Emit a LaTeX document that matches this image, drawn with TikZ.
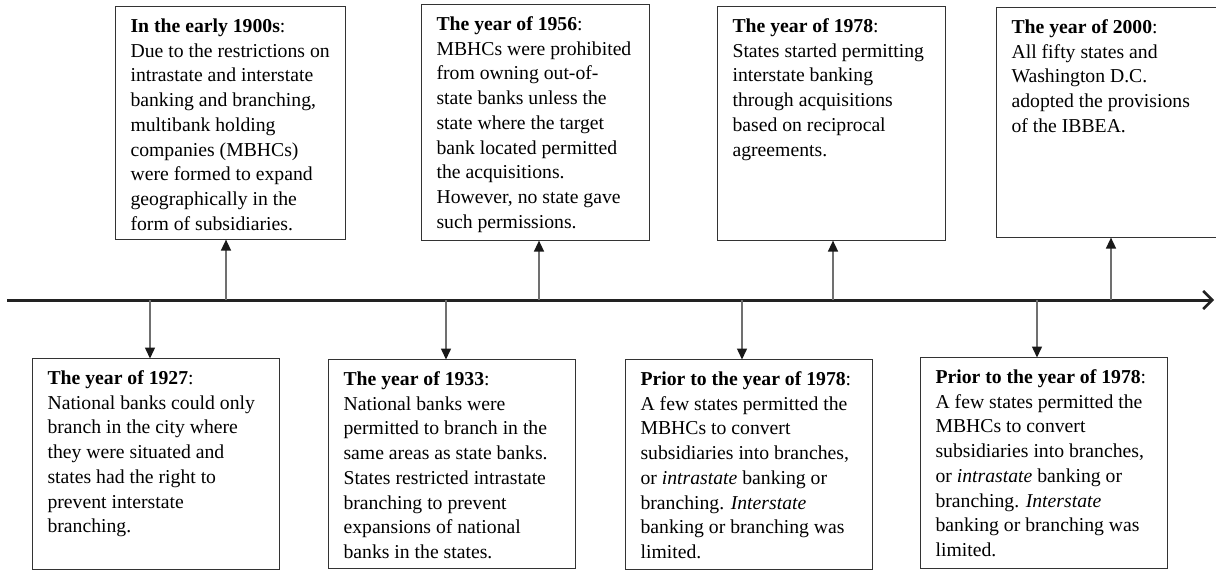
\documentclass[tikz,border=0pt]{standalone}
\usepackage{fontspec}
\setmainfont{Liberation Serif}
\usetikzlibrary{arrows.meta}
\definecolor{boxline}{HTML}{333333}
\definecolor{connline}{HTML}{707070}
\definecolor{axisline}{HTML}{222222}
\newcommand{\evtext}[3]{\begin{minipage}[t][#2pt][t]{#1pt}\fontsize{19.7}{24.7}\selectfont\raggedright\rule{0pt}{26pt}#3\end{minipage}}
\tikzset{
  evbox/.style={draw=boxline, line width=1.1pt, inner xsep=15pt, inner ysep=0pt, anchor=north west, fill=white},
  conn/.style={draw=connline, line width=1.5pt, -{Triangle[width=10pt,length=11pt,color=black!90]}, shorten >=-0.5pt},
  axis/.style={draw=axisline, line width=3pt, -{Straight Barb[length=9pt,width=18pt,line width=2.6pt]}},
}
\begin{document}
\begin{tikzpicture}[x=1pt,y=-1pt]
\useasboundingbox (0,0) rectangle (1216,570);
\clip (0,0) rectangle (1216,570);
% timeline
\coordinate (tl0) at (7,300);
\coordinate (tl1) at (1214,300);
\draw[axis] (tl0) -- (tl1);
% top boxes
\node[evbox] (A) at (115,6) {\evtext{200}{233}{\textbf{In the early 1900s}:\\
Due to the restrictions on\\
intrastate and interstate\\
banking and branching,\\
multibank holding\\
companies (MBHCs)\\
were formed to expand\\
geographically in the\\
form of subsidiaries.}};
\node[evbox] (B) at (421,4) {\evtext{198}{236}{\textbf{The year of 1956}:\\
MBHCs were prohibited\\
from owning out-of-\\
state banks unless the\\
state where the target\\
bank located permitted\\
the acquisitions.\\
However, no state gave\\
such permissions.}};
\node[evbox] (C) at (717,6) {\evtext{198}{234}{\textbf{The year of 1978}:\\
States started permitting\\
interstate banking\\
through acquisitions\\
based on reciprocal\\
agreements.}};
\node[evbox] (D) at (996,7) {\evtext{210}{230}{\textbf{The year of 2000}:\\
All fifty states and\\
Washington D.C.\\
adopted the provisions\\
of the IBBEA.}};
% bottom boxes
\node[evbox] (E) at (32,358) {\evtext{217}{211}{\textbf{The year of 1927}:\\
National banks could only\\
branch in the city where\\
they were situated and\\
states had the right to\\
prevent interstate\\
branching.}};
\node[evbox] (F) at (328,359) {\evtext{217}{209}{\textbf{The year of 1933}:\\
National banks were\\
permitted to branch in the\\
same areas as state banks.\\
States restricted intrastate\\
branching to prevent\\
expansions of national\\
banks in the states.}};
\node[evbox] (G) at (625,359) {\evtext{217}{210}{\textbf{Prior to the year of 1978}:\\
A few states permitted the\\
MBHCs to convert\\
subsidiaries into branches,\\
or \textit{intrastate} banking or\\
branching. \textit{Interstate}\\
banking or branching was\\
limited.}};
\node[evbox] (H) at (920,357) {\evtext{217}{211}{\textbf{Prior to the year of 1978}:\\
A few states permitted the\\
MBHCs to convert\\
subsidiaries into branches,\\
or \textit{intrastate} banking or\\
branching. \textit{Interstate}\\
banking or branching was\\
limited.}};
% connector origins on the timeline
\coordinate (pA) at (226,300);
\coordinate (pB) at (539,300);
\coordinate (pC) at (833,300);
\coordinate (pD) at (1111,300);
\coordinate (pE) at (150,300);
\coordinate (pF) at (446,300);
\coordinate (pG) at (742,300);
\coordinate (pH) at (1037,300);
\foreach \p/\b in {pA/A,pB/B,pC/C,pD/D}
  \draw[conn] (\p) -- (\p |- \b.south);
\foreach \p/\b in {pE/E,pF/F,pG/G,pH/H}
  \draw[conn] (\p) -- (\p |- \b.north);
\end{tikzpicture}
\end{document}
